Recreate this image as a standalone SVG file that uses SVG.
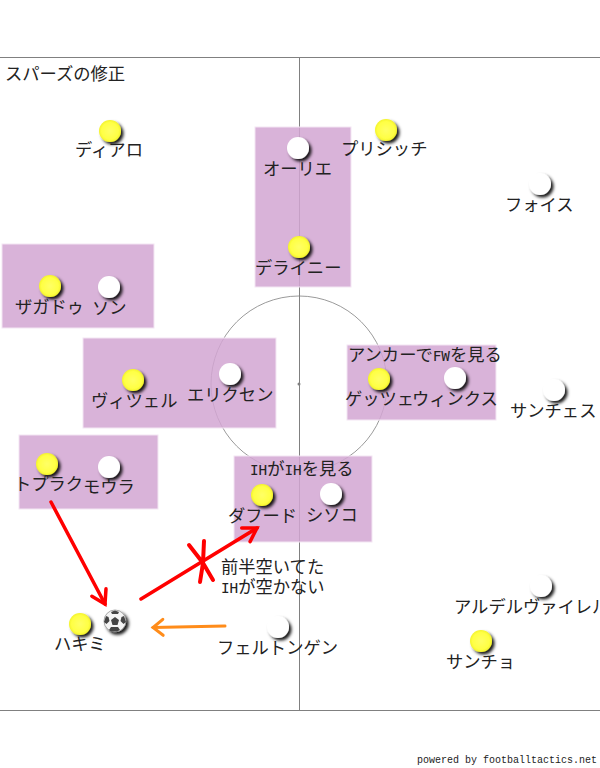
<svg xmlns="http://www.w3.org/2000/svg" width="600" height="768" viewBox="0 0 600 768">
<defs>
<radialGradient id="gy" cx="50%" cy="50%" r="55%"><stop offset="0" stop-color="#ffff66"/><stop offset="0.7" stop-color="#ffff44"/><stop offset="1" stop-color="#eeee22"/></radialGradient>
<filter id="sh" x="-40%" y="-40%" width="190%" height="190%"><feDropShadow dx="2.500" dy="2.500" stdDeviation="1.500" flood-color="#000" flood-opacity="0.9"/></filter>
<marker id="mr" viewBox="0 0 20 20" refX="15" refY="10" markerWidth="20" markerHeight="20" markerUnits="userSpaceOnUse" orient="auto"><path d="M2 2L15 10L2 18" fill="none" stroke="#ff0000" stroke-width="3.500" stroke-linecap="round"/></marker>
<marker id="mo" viewBox="0 0 20 20" refX="15" refY="10" markerWidth="20" markerHeight="20" markerUnits="userSpaceOnUse" orient="auto"><path d="M5 2L15 10L5 18" fill="none" stroke="#ff8c1a" stroke-width="3" stroke-linecap="round"/></marker>
</defs>
<style>
text{font-family:"Noto Sans CJK JP","DejaVu Sans",sans-serif;font-size:17.300px;fill:#222}
.l{font-family:"DejaVu Sans Mono","Noto Sans CJK JP",monospace;font-size:14.300px}
.box{fill:#d2a6d2;fill-opacity:.85;stroke:#f3e6f3;stroke-width:1}
.pl{fill:none;stroke:#808080}
.y{fill:url(#gy);filter:url(#sh)}
.w{fill:#fff;filter:url(#sh)}
</style>
<g id="pitch">
<path class="pl" d="M0 57.500H600M0 710.500H600M299.500 57V711"/>
<circle class="pl" cx="299" cy="384" r="88" stroke-width=".8"/>
<circle cx="299" cy="384" r="1.500" fill="#808080"/>
</g>
<g id="zones">
<rect class="box" x="255" y="127" width="96" height="160"/>
<rect class="box" x="2" y="244" width="152" height="84"/>
<rect class="box" x="83" y="338" width="193" height="90"/>
<rect class="box" x="347" y="345" width="149" height="75"/>
<rect class="box" x="19" y="435" width="139" height="74"/>
<rect class="box" x="234" y="456" width="138" height="86"/>
</g>
<text id="title" x="5" y="80">スパーズの修正</text>
<g id="connectors" fill="none" stroke-linecap="round" stroke-linejoin="round">
<path d="M51 502L105 604" stroke="#ff0000" stroke-width="3.500" marker-end="url(#mr)"/>
<path d="M141 599L257 528" stroke="#ff0000" stroke-width="3.500" marker-end="url(#mr)"/>
<path d="M225 626L153 627.500" stroke="#ff8c1a" stroke-width="3" marker-end="url(#mo)"/>
<path d="M189 545L203 563L213 580M204 541L203 563L200 582" stroke="#ff0000" stroke-width="4"/>
</g>
<g id="diallo"><circle class="y" cx="110" cy="131" r="11"/><text x="75" y="156">ディアロ</text></g>
<g id="pulisic"><circle class="y" cx="386" cy="130" r="11"/><text x="341" y="155">プリシッチ</text></g>
<g id="aurier"><circle class="w" cx="298" cy="148" r="11"/><text x="263" y="175">オーリエ</text></g>
<g id="fofana"><circle class="w" cx="540" cy="184" r="11"/><text x="505" y="211">フォイス</text></g>
<g id="delaney"><circle class="y" cx="299" cy="247" r="11"/><text x="255" y="274">デライニー</text></g>
<g id="zagadou"><circle class="y" cx="50" cy="286" r="11"/><text x="15" y="313">ザガドゥ</text></g>
<g id="son"><circle class="w" cx="109" cy="287" r="11"/><text x="92" y="314">ソン</text></g>
<g id="witsel"><circle class="y" cx="133" cy="380" r="11"/><text x="91" y="407">ヴィツェル</text></g>
<g id="eriksen"><circle class="w" cx="230" cy="374" r="11"/><text x="187" y="401">エリクセン</text></g>
<text id="note-anchor" x="348" y="361">アンカーで<tspan class="l">FW</tspan>を見る</text>
<g id="goetze"><circle class="y" cx="379" cy="379" r="11"/><text x="345" y="405">ゲッツェ</text></g>
<g id="winks"><circle class="w" cx="455" cy="378" r="11"/><text x="412" y="405">ウィンクス</text></g>
<g id="sanchez"><circle class="w" cx="554" cy="390" r="11"/><text x="510" y="417">サンチェス</text></g>
<g id="toprak"><circle class="y" cx="47" cy="464" r="11"/><text x="14" y="490">トプラク</text></g>
<g id="moura"><circle class="w" cx="109" cy="467" r="11"/><text x="83" y="493">モウラ</text></g>
<text id="note-ih" x="250" y="475"><tspan class="l">IH</tspan>が<tspan class="l">IH</tspan>を見る</text>
<g id="dahoud"><circle class="y" cx="262" cy="495" r="11"/><text x="228" y="522">ダフード</text></g>
<g id="sissoko"><circle class="w" cx="331" cy="494" r="11"/><text x="306" y="521">シソコ</text></g>
<text id="note-half" x="221" y="573">前半空いてた<tspan class="l" x="221" dy="20">IH</tspan><tspan>が空かない</tspan></text>
<g id="hakimi"><circle class="y" cx="80" cy="624" r="11"/><text x="54" y="650">ハキミ</text></g>
<g id="ball" filter="url(#sh)"><circle cx="115" cy="621" r="11" fill="#f4f4f4" stroke="#777" stroke-width=".6"/><path d="M115 617l4 3-1.500 5h-5l-1.500-5zM115 610.500l4 1.500-1 2h-6l-1-2zM106 616l2.500 1 1 4-3 3-2.500-2zM124 616l-2.500 1-1 4 3 3 2.500-2zM109 630l2-3 7 0 2 3-3 1.500h-6z" fill="#444"/></g>
<g id="vertonghen"><circle class="w" cx="278" cy="627" r="11"/><text x="217" y="654">フェルトンゲン</text></g>
<g id="alderweireld"><circle class="w" cx="541" cy="586" r="11"/><text x="454" y="613">アルデルヴァイレル</text></g>
<g id="sancho"><circle class="y" cx="481" cy="641" r="11"/><text x="446" y="668">サンチョ</text></g>
<text id="credit" x="417" y="763" style="font-family:'Liberation Mono',monospace;font-size:11px" textLength="180" lengthAdjust="spacingAndGlyphs">powered by footballtactics.net</text>
</svg>
